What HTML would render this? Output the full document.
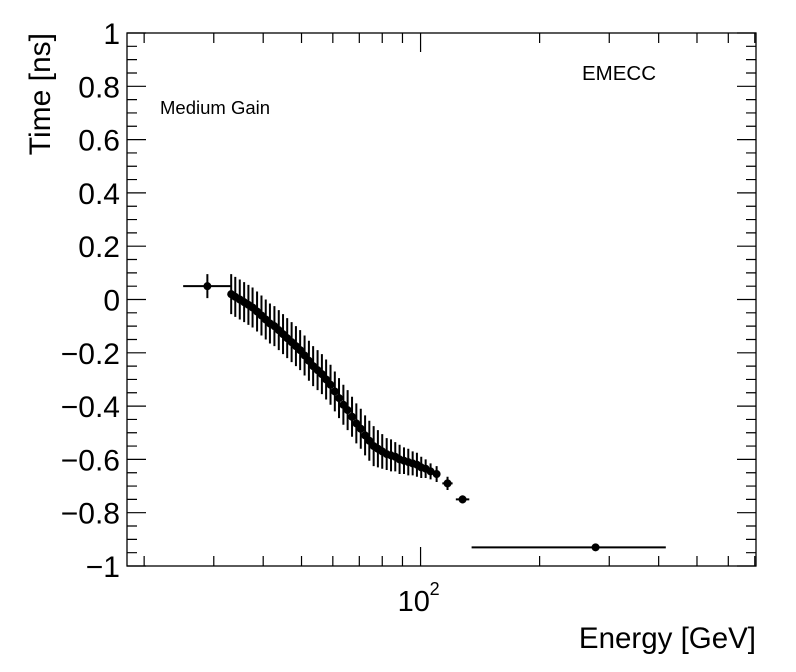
<!DOCTYPE html>
<html><head><meta charset="utf-8"><style>
html,body{margin:0;padding:0;background:#fff;}
svg{display:block;font-family:"Liberation Sans",Arial,sans-serif;}
</style></head><body>
<svg id="chart" width="796" height="672" xmlns="http://www.w3.org/2000/svg">
<rect x="0" y="0" width="796" height="672" fill="#fff"/>
<g id="axes"></g>
<g id="points"></g>
<text x="0" y="0" transform="translate(50,33) rotate(-90)" text-anchor="end" font-size="30">Time [ns]</text>
<text x="756" y="648" text-anchor="end" font-size="29.5">Energy [GeV]</text>
<text x="582" y="80" font-size="20.5">EMECC</text>
<text x="160" y="114" font-size="18.5">Medium Gain</text>
</svg>
<script>
const energy=[28.9,33.2,34.0,34.9,35.8,36.7,37.6,38.6,39.6,40.6,41.6,42.7,43.8,44.9,46.0,47.2,48.4,49.6,50.9,52.2,53.5,54.9,56.3,57.7,59.2,60.7,62.2,63.8,65.4,67.1,68.8,70.6,72.4,74.2,76.1,78.0,80.0,82.1,84.2,86.3,88.5,90.8,93.1,95.5,97.9,100.4,103.0,106.0,109.8,117,127.7,277];
const time=[0.05,0.02,0.01,0.0,-0.01,-0.02,-0.03,-0.045,-0.06,-0.075,-0.09,-0.10,-0.115,-0.13,-0.145,-0.16,-0.175,-0.19,-0.21,-0.23,-0.25,-0.265,-0.28,-0.30,-0.32,-0.345,-0.37,-0.395,-0.415,-0.44,-0.465,-0.485,-0.51,-0.53,-0.55,-0.56,-0.57,-0.58,-0.585,-0.59,-0.60,-0.605,-0.61,-0.615,-0.62,-0.63,-0.635,-0.645,-0.655,-0.69,-0.75,-0.93];
const timeErr=[0.045,0.075,0.075,0.075,0.075,0.075,0.075,0.075,0.075,0.075,0.075,0.075,0.075,0.075,0.075,0.075,0.075,0.075,0.075,0.075,0.075,0.075,0.075,0.075,0.075,0.075,0.075,0.075,0.075,0.075,0.075,0.075,0.075,0.075,0.075,0.07,0.065,0.06,0.06,0.055,0.055,0.05,0.05,0.045,0.045,0.04,0.035,0.03,0.03,0.025,0.015,0.008];
const energyLo=[25.1,32.8,null,null,null,null,null,null,null,null,null,null,null,null,null,null,null,null,null,null,null,null,null,null,null,null,null,null,null,null,null,null,null,null,null,null,null,null,null,null,null,null,null,null,null,null,null,null,null,113.5,122.8,134.6];
const energyHi=[33.2,null,null,null,null,null,null,null,null,null,null,null,null,null,null,null,null,null,null,null,null,null,null,null,null,null,null,null,null,null,null,null,null,null,null,null,null,null,null,null,null,null,null,null,null,null,null,null,111.5,120.5,132.8,417];
const yTicks=[-1,-0.8,-0.6,-0.4,-0.2,0,0.2,0.4,0.6,0.8,1];
const yTickLabels=["\u22121","\u22120.8","\u22120.6","\u22120.4","\u22120.2","0","0.2","0.4","0.6","0.8","1"];
const xMinor=[20,30,40,50,60,70,80,90,200,300,400,500,600,700];

const L=127,R=756,T=33,B=566,XMIN=18.1,XMAX=705,YMIN=-1,YMAX=1;
const NS="http://www.w3.org/2000/svg";
function xs(e){return L+(Math.log10(e)-Math.log10(XMIN))/(Math.log10(XMAX)-Math.log10(XMIN))*(R-L);}
function ys(v){return B-(v-YMIN)/(YMAX-YMIN)*(B-T);}
function mk(tag,attrs,parent){const el=document.createElementNS(NS,tag);for(const k in attrs)el.setAttribute(k,attrs[k]);parent.appendChild(el);return el;}
const ax=document.getElementById('axes');
let fr=mk('rect',{x:L,y:T,width:R-L,height:B-T,fill:'none',stroke:'#000','stroke-width':1.3},ax);


for(let i=0;i<yTicks.length;i++){
  const y=ys(yTicks[i]);
  let t=mk('path',{d:`M${L},${y}h19M${R},${y}h-19`,stroke:'#000','stroke-width':1.2},ax);
  
  
  let lb=mk('text',{x:120,y:y+11,'text-anchor':'end','font-size':30},ax);
  lb.textContent=yTickLabels[i];
  
  
  if(i<yTicks.length-1){for(let k=1;k<4;k++){const yy=ys(yTicks[i]+k*(yTicks[i+1]-yTicks[i])/4);
    let m=mk('path',{d:`M${L},${yy}h10M${R},${yy}h-10`,stroke:'#000','stroke-width':1.2},ax);
    
    }}
}
for(const v of xMinor){const x=xs(v);
  let m=mk('path',{d:`M${x},${B}v-10M${x},${T}v10`,stroke:'#000','stroke-width':1.2},ax);
  
  }
{const x=xs(100);
  let m=mk('path',{d:`M${x},${B}v-19M${x},${T}v19`,stroke:'#000','stroke-width':1.2},ax);
  
  
  let lb=mk('text',{x:x-23,y:611,'font-size':29},ax);
  lb.textContent='10';
  
  
  let sp=mk('text',{x:x+9,y:595,'font-size':18},ax);
  sp.textContent='2';
  
  }
const pg=document.getElementById('points');
for(let i=0;i<energy.length;i++){
  const x=xs(energy[i]),y=ys(time[i]);
  let lo=energyLo[i],hi=energyHi[i];
  if(lo==null){lo=Math.sqrt(energy[i]*energy[i-1]);}
  if(hi==null){hi=Math.sqrt(energy[i]*energy[i+1]);}
  let g=mk('g',{},pg);
  
  
  mk('path',{d:`M${xs(lo)},${y}H${xs(hi)}M${x},${ys(time[i]-timeErr[i])}V${ys(time[i]+timeErr[i])}`,stroke:'#000','stroke-width':2},g);
  mk('circle',{cx:x,cy:y,r:4,fill:'#000'},g);
}
</script>
</body></html>
